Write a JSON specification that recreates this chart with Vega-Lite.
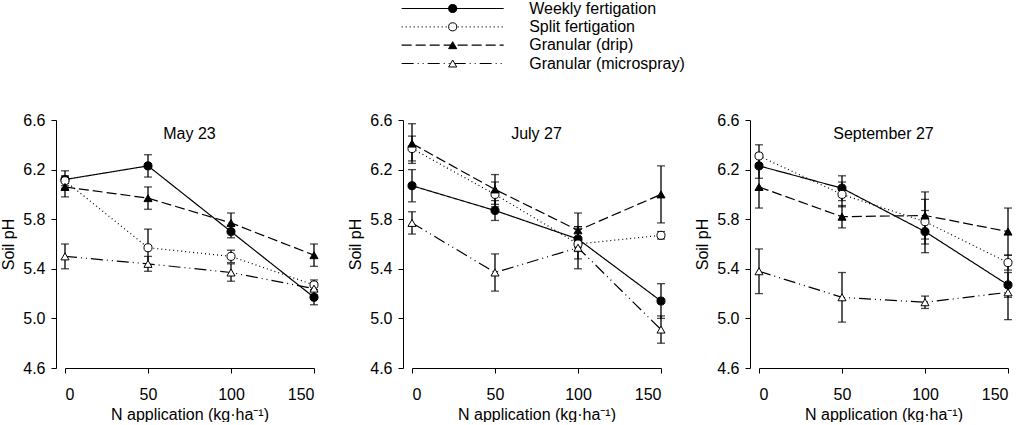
{
  "$schema": "https://vega.github.io/schema/vega-lite/v6.json",
  "padding": {"left": 0, "top": 0, "right": 0, "bottom": 0},
  "config": {
    "font": "Liberation Sans",
    "view": {"stroke": null},
    "axis": {
      "grid": false,
      "domainColor": "black",
      "tickColor": "black",
      "labelColor": "black",
      "titleColor": "black",
      "labelFontSize": 16,
      "titleFontSize": 16,
      "titleFontWeight": "normal",
      "tickSize": 5
    }
  },
  "datasets": {
    "series": [
      {"series": "Weekly fertigation"},
      {"series": "Split fertigation"},
      {"series": "Granular (drip)"},
      {"series": "Granular (microspray)"}
    ],
    "ph": [
      {"date": "May 23", "series": "Weekly fertigation", "n": 0, "ph": 6.12, "se": 0.07},
      {"date": "May 23", "series": "Weekly fertigation", "n": 50, "ph": 6.23, "se": 0.09},
      {"date": "May 23", "series": "Weekly fertigation", "n": 100, "ph": 5.70, "se": 0.05},
      {"date": "May 23", "series": "Weekly fertigation", "n": 150, "ph": 5.17, "se": 0.06},
      {"date": "May 23", "series": "Split fertigation", "n": 0, "ph": 6.11, "se": 0.04},
      {"date": "May 23", "series": "Split fertigation", "n": 50, "ph": 5.57, "se": 0.15},
      {"date": "May 23", "series": "Split fertigation", "n": 100, "ph": 5.50, "se": 0.05},
      {"date": "May 23", "series": "Split fertigation", "n": 150, "ph": 5.27, "se": 0.04},
      {"date": "May 23", "series": "Granular (drip)", "n": 0, "ph": 6.06, "se": 0.08},
      {"date": "May 23", "series": "Granular (drip)", "n": 50, "ph": 5.97, "se": 0.09},
      {"date": "May 23", "series": "Granular (drip)", "n": 100, "ph": 5.77, "se": 0.08},
      {"date": "May 23", "series": "Granular (drip)", "n": 150, "ph": 5.51, "se": 0.09},
      {"date": "May 23", "series": "Granular (microspray)", "n": 0, "ph": 5.50, "se": 0.10},
      {"date": "May 23", "series": "Granular (microspray)", "n": 50, "ph": 5.44, "se": 0.06},
      {"date": "May 23", "series": "Granular (microspray)", "n": 100, "ph": 5.37, "se": 0.07},
      {"date": "May 23", "series": "Granular (microspray)", "n": 150, "ph": 5.24, "se": 0.05},
      {"date": "July 27", "series": "Weekly fertigation", "n": 0, "ph": 6.07, "se": 0.13},
      {"date": "July 27", "series": "Weekly fertigation", "n": 50, "ph": 5.87, "se": 0.08},
      {"date": "July 27", "series": "Weekly fertigation", "n": 100, "ph": 5.64, "se": 0.10},
      {"date": "July 27", "series": "Weekly fertigation", "n": 150, "ph": 5.14, "se": 0.14},
      {"date": "July 27", "series": "Split fertigation", "n": 0, "ph": 6.37, "se": 0.10},
      {"date": "July 27", "series": "Split fertigation", "n": 50, "ph": 6.00, "se": 0.10},
      {"date": "July 27", "series": "Split fertigation", "n": 100, "ph": 5.60, "se": 0.12},
      {"date": "July 27", "series": "Split fertigation", "n": 150, "ph": 5.67, "se": 0.03},
      {"date": "July 27", "series": "Granular (drip)", "n": 0, "ph": 6.41, "se": 0.16},
      {"date": "July 27", "series": "Granular (drip)", "n": 50, "ph": 6.04, "se": 0.12},
      {"date": "July 27", "series": "Granular (drip)", "n": 100, "ph": 5.71, "se": 0.14},
      {"date": "July 27", "series": "Granular (drip)", "n": 150, "ph": 6.00, "se": 0.23},
      {"date": "July 27", "series": "Granular (microspray)", "n": 0, "ph": 5.77, "se": 0.09},
      {"date": "July 27", "series": "Granular (microspray)", "n": 50, "ph": 5.37, "se": 0.15},
      {"date": "July 27", "series": "Granular (microspray)", "n": 100, "ph": 5.57, "se": 0.17},
      {"date": "July 27", "series": "Granular (microspray)", "n": 150, "ph": 4.91, "se": 0.11},
      {"date": "September 27", "series": "Weekly fertigation", "n": 0, "ph": 6.23, "se": 0.10},
      {"date": "September 27", "series": "Weekly fertigation", "n": 50, "ph": 6.05, "se": 0.10},
      {"date": "September 27", "series": "Weekly fertigation", "n": 100, "ph": 5.70, "se": 0.17},
      {"date": "September 27", "series": "Weekly fertigation", "n": 150, "ph": 5.27, "se": 0.10},
      {"date": "September 27", "series": "Split fertigation", "n": 0, "ph": 6.31, "se": 0.09},
      {"date": "September 27", "series": "Split fertigation", "n": 50, "ph": 6.00, "se": 0.10},
      {"date": "September 27", "series": "Split fertigation", "n": 100, "ph": 5.78, "se": 0.18},
      {"date": "September 27", "series": "Split fertigation", "n": 150, "ph": 5.45, "se": 0.06},
      {"date": "September 27", "series": "Granular (drip)", "n": 0, "ph": 6.06, "se": 0.17},
      {"date": "September 27", "series": "Granular (drip)", "n": 50, "ph": 5.82, "se": 0.09},
      {"date": "September 27", "series": "Granular (drip)", "n": 100, "ph": 5.83, "se": 0.19},
      {"date": "September 27", "series": "Granular (drip)", "n": 150, "ph": 5.70, "se": 0.19},
      {"date": "September 27", "series": "Granular (microspray)", "n": 0, "ph": 5.38, "se": 0.18},
      {"date": "September 27", "series": "Granular (microspray)", "n": 50, "ph": 5.17, "se": 0.20},
      {"date": "September 27", "series": "Granular (microspray)", "n": 100, "ph": 5.13, "se": 0.05},
      {"date": "September 27", "series": "Granular (microspray)", "n": 150, "ph": 5.21, "se": 0.22}
    ]
  },
  "spacing": 40,
  "vconcat": [
    {
      "data": {"name": "series"},
      "width": 960,
      "height": 66,
      "encoding": {
        "y": {
          "field": "series",
          "type": "nominal",
          "scale": {
            "type": "point",
            "padding": 0.3,
            "domain": ["Weekly fertigation", "Split fertigation", "Granular (drip)", "Granular (microspray)"]
          },
          "axis": null
        }
      },
      "layer": [
        {
          "mark": {"type": "rule", "color": "black", "strokeWidth": 1.2},
          "encoding": {
            "x": {"datum": 0, "type": "quantitative", "scale": {"domain": [-3.30, 6.11], "nice": false, "zero": false}, "axis": null},
            "x2": {"datum": 1},
            "strokeDash": {
              "field": "series",
              "type": "nominal",
              "scale": {
                "domain": ["Weekly fertigation", "Split fertigation", "Granular (drip)", "Granular (microspray)"],
                "range": [[1, 0], [1, 3], [10, 4], [12, 4, 1, 4, 1, 4]]
              },
              "legend": null
            }
          }
        },
        {
          "mark": {"type": "point", "stroke": "black", "strokeWidth": 1, "opacity": 1, "size": 65},
          "encoding": {
            "x": {"datum": 0.5, "type": "quantitative"},
            "shape": {
              "field": "series",
              "type": "nominal",
              "scale": {
                "domain": ["Weekly fertigation", "Split fertigation", "Granular (drip)", "Granular (microspray)"],
                "range": ["circle", "circle", "triangle-up", "triangle-up"]
              },
              "legend": null
            },
            "fill": {
              "field": "series",
              "type": "nominal",
              "scale": {
                "domain": ["Weekly fertigation", "Split fertigation", "Granular (drip)", "Granular (microspray)"],
                "range": ["black", "white", "black", "white"]
              },
              "legend": null
            }
          }
        },
        {
          "mark": {"type": "text", "align": "left", "baseline": "middle", "fontSize": 16, "color": "black"},
          "encoding": {
            "x": {"datum": 1.25, "type": "quantitative"},
            "text": {"field": "series"}
          }
        }
      ]
    },
    {
      "data": {"name": "ph"},
      "facet": {
        "column": {
          "field": "date",
          "type": "nominal",
          "sort": ["May 23", "July 27", "September 27"],
          "header": {"labels": false, "title": null},
          "title": null
        }
      },
      "spacing": 26,
      "resolve": {"axis": {"y": "independent", "x": "independent"}},
      "spec": {
        "width": 249,
        "height": 248,
        "encoding": {
          "x": {
            "field": "n",
            "type": "quantitative",
            "scale": {"domain": [0, 150], "nice": false},
            "axis": {"values": [0, 50, 100, 150], "title": "N application (kg·ha⁻¹)", "labelPadding": 13, "titlePadding": 4}
          },
          "y": {
            "field": "ph",
            "type": "quantitative",
            "scale": {"domain": [4.6, 6.6], "nice": false, "zero": false},
            "axis": {"values": [4.6, 5.0, 5.4, 5.8, 6.2, 6.6], "format": ".1f", "offset": 9, "title": "Soil pH", "labelPadding": 6, "titlePadding": 6}
          }
        },
        "layer": [
          {
            "mark": {"type": "errorbar", "color": "black", "thickness": 1.3, "ticks": {"size": 8, "thickness": 1.3}},
            "encoding": {
              "yError": {"field": "se"},
              "detail": {"field": "series"}
            }
          },
          {
            "mark": {"type": "line", "color": "black", "strokeWidth": 1.2},
            "encoding": {
              "strokeDash": {
                "field": "series",
                "type": "nominal",
                "scale": {
                  "domain": ["Weekly fertigation", "Split fertigation", "Granular (drip)", "Granular (microspray)"],
                  "range": [[1, 0], [1, 3], [10, 4], [12, 4, 1, 4, 1, 4]]
                },
                "legend": null
              }
            }
          },
          {
            "mark": {"type": "point", "stroke": "black", "strokeWidth": 1, "opacity": 1, "size": 65},
            "encoding": {
              "shape": {
                "field": "series",
                "type": "nominal",
                "scale": {
                  "domain": ["Weekly fertigation", "Split fertigation", "Granular (drip)", "Granular (microspray)"],
                  "range": ["circle", "circle", "triangle-up", "triangle-up"]
                },
                "legend": null
              },
              "fill": {
                "field": "series",
                "type": "nominal",
                "scale": {
                  "domain": ["Weekly fertigation", "Split fertigation", "Granular (drip)", "Granular (microspray)"],
                  "range": ["black", "white", "black", "white"]
                },
                "legend": null
              }
            }
          },
          {
            "transform": [{"filter": "datum.n == 0 && datum.series == 'Weekly fertigation'"}],
            "mark": {"type": "text", "fontSize": 16, "baseline": "middle", "align": "center", "color": "black"},
            "encoding": {
              "x": {"datum": 75, "type": "quantitative"},
              "y": {"datum": 6.49, "type": "quantitative"},
              "text": {"field": "date"}
            }
          }
        ]
      }
    }
  ]
}
